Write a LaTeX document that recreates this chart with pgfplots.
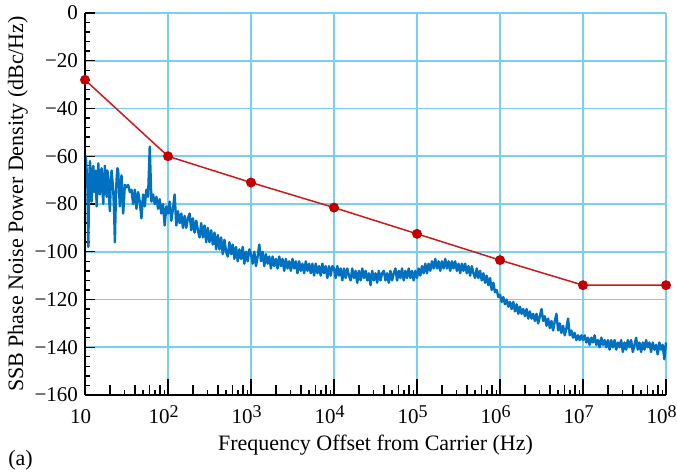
\documentclass[border=0pt]{standalone}
\usepackage{fontspec}
\setmainfont{Liberation Serif}
\usepackage{pgfplots}
\pgfplotsset{compat=1.18}
\usepackage{pgfplotstable}

\definecolor{gridc}{RGB}{120,208,240}
\definecolor{redc}{RGB}{205,25,25}
\definecolor{markc}{RGB}{195,0,0}
\definecolor{bluec}{RGB}{0,112,192}

\newcommand\ex[1]{10\raisebox{3.3pt}{\fontsize{9pt}{9pt}\selectfont #1}}

\pgfplotstableread{
f y
1.000e1 -62
1.023e1 -60
1.047e1 -66
1.072e1 -74
1.096e1 -98
1.122e1 -70
1.148e1 -62
1.175e1 -68
1.202e1 -79
1.230e1 -70
1.259e1 -64
1.288e1 -75
1.318e1 -71
1.349e1 -66
1.380e1 -81
1.413e1 -72
1.445e1 -63
1.479e1 -70
1.514e1 -76
1.549e1 -68
1.585e1 -65
1.622e1 -73
1.660e1 -80
1.698e1 -70
1.738e1 -64
1.778e1 -72
1.820e1 -77
1.862e1 -66
1.905e1 -69
1.950e1 -78
1.995e1 -83
2.042e1 -72
2.089e1 -66
2.138e1 -70
2.188e1 -74
2.239e1 -82
2.291e1 -96
2.344e1 -80
2.399e1 -70
2.455e1 -65
2.512e1 -66
2.570e1 -74
2.630e1 -81
2.692e1 -72
2.754e1 -68
2.818e1 -76
2.884e1 -84
2.951e1 -78
3.020e1 -72
3.162e1 -73
3.311e1 -72
3.467e1 -75
3.631e1 -74
3.802e1 -80
3.981e1 -74
4.169e1 -82
4.365e1 -75
4.571e1 -79
4.786e1 -86
5.012e1 -76
5.248e1 -81
5.495e1 -74
5.754e1 -77
6.026e1 -56
6.310e1 -79
6.607e1 -76
6.918e1 -80
7.244e1 -77
7.586e1 -82
7.943e1 -78
8.318e1 -84
8.710e1 -80
9.120e1 -89
9.550e1 -81
1.000e2 -84
1.047e2 -79
1.096e2 -87
1.148e2 -82
1.202e2 -76
1.259e2 -89
1.318e2 -83
1.380e2 -88
1.445e2 -84
1.514e2 -90
1.585e2 -85
1.660e2 -90
1.738e2 -86
1.820e2 -84
1.905e2 -91
1.995e2 -86
2.089e2 -92
2.188e2 -87
2.291e2 -91
2.399e2 -94
2.512e2 -88
2.630e2 -94
2.754e2 -89
2.884e2 -96
3.020e2 -90
3.162e2 -96
3.311e2 -91
3.467e2 -97
3.631e2 -92
3.802e2 -99
3.981e2 -93
4.169e2 -99
4.365e2 -94
4.571e2 -101
4.786e2 -95
5.012e2 -100
5.248e2 -102
5.495e2 -96
5.754e2 -101
6.026e2 -97
6.310e2 -103
6.607e2 -98
6.918e2 -104
7.244e2 -99
7.586e2 -103
7.943e2 -98
8.318e2 -105
8.710e2 -100
9.120e2 -104
9.550e2 -99
1.000e3 -101
1.047e3 -105
1.096e3 -100
1.148e3 -106
1.202e3 -102
1.259e3 -97
1.318e3 -104
1.380e3 -100
1.445e3 -106
1.514e3 -101
1.585e3 -105
1.660e3 -102
1.738e3 -107
1.820e3 -102
1.905e3 -106
1.995e3 -103
2.089e3 -107
2.188e3 -102
2.291e3 -106
2.399e3 -103
2.512e3 -108
2.630e3 -103
2.754e3 -107
2.884e3 -104
3.020e3 -108
3.162e3 -103
3.311e3 -107
3.467e3 -104
3.631e3 -109
3.802e3 -104
3.981e3 -108
4.169e3 -105
4.365e3 -109
4.571e3 -104
4.786e3 -108
5.012e3 -105
5.248e3 -109
5.495e3 -105
5.754e3 -110
6.026e3 -105
6.310e3 -109
6.607e3 -106
6.918e3 -110
7.244e3 -105
7.586e3 -109
7.943e3 -106
8.318e3 -111
8.710e3 -106
9.120e3 -110
9.550e3 -106
1.000e4 -107
1.047e4 -111
1.096e4 -106
1.148e4 -110
1.202e4 -107
1.259e4 -112
1.318e4 -107
1.380e4 -111
1.445e4 -107
1.514e4 -110
1.585e4 -112
1.660e4 -107
1.738e4 -111
1.820e4 -108
1.905e4 -113
1.995e4 -108
2.089e4 -112
2.188e4 -107
2.291e4 -111
2.399e4 -108
2.512e4 -112
2.630e4 -109
2.754e4 -114
2.884e4 -108
3.020e4 -112
3.162e4 -109
3.311e4 -113
3.467e4 -108
3.631e4 -112
3.802e4 -109
3.981e4 -108
4.169e4 -112
4.365e4 -109
4.571e4 -113
4.786e4 -108
5.012e4 -112
5.248e4 -109
5.495e4 -107
5.754e4 -112
6.026e4 -108
6.310e4 -111
6.607e4 -107
6.918e4 -112
7.244e4 -108
7.586e4 -111
7.943e4 -107
8.318e4 -111
8.710e4 -108
9.120e4 -112
9.550e4 -108
1.000e5 -111
1.047e5 -107
1.096e5 -110
1.148e5 -106
1.202e5 -109
1.259e5 -105
1.318e5 -109
1.380e5 -105
1.445e5 -108
1.514e5 -104
1.585e5 -107
1.660e5 -103
1.738e5 -107
1.820e5 -104
1.905e5 -108
1.995e5 -104
2.089e5 -107
2.188e5 -103
2.291e5 -107
2.399e5 -104
2.512e5 -108
2.630e5 -104
2.754e5 -107
2.884e5 -104
3.020e5 -108
3.162e5 -105
3.311e5 -109
3.467e5 -105
3.631e5 -108
3.802e5 -105
3.981e5 -109
4.169e5 -106
4.365e5 -110
4.571e5 -106
4.786e5 -109
5.012e5 -111
5.248e5 -107
5.495e5 -111
5.754e5 -108
6.026e5 -112
6.310e5 -109
6.607e5 -113
6.918e5 -110
7.244e5 -114
7.586e5 -111
7.943e5 -116
8.318e5 -113
8.710e5 -117
9.120e5 -116
9.550e5 -119
1.000e6 -118
1.047e6 -121
1.096e6 -119
1.148e6 -122
1.202e6 -120
1.259e6 -123
1.318e6 -121
1.380e6 -124
1.445e6 -121
1.514e6 -125
1.585e6 -122
1.660e6 -126
1.738e6 -123
1.820e6 -126
1.905e6 -124
1.995e6 -127
2.089e6 -124
2.188e6 -128
2.291e6 -125
2.399e6 -128
2.512e6 -126
2.630e6 -129
2.754e6 -126
2.884e6 -130
3.020e6 -127
3.162e6 -124
3.311e6 -129
3.467e6 -127
3.631e6 -131
3.802e6 -128
3.981e6 -132
4.169e6 -129
4.365e6 -133
4.571e6 -129
4.786e6 -126
5.012e6 -133
5.248e6 -130
5.495e6 -134
5.754e6 -131
6.026e6 -135
6.310e6 -132
6.607e6 -128
6.918e6 -135
7.244e6 -133
7.586e6 -136
7.943e6 -134
8.318e6 -137
8.710e6 -135
9.120e6 -137
9.550e6 -135
1.000e7 -137
1.047e7 -135
1.096e7 -138
1.148e7 -136
1.202e7 -139
1.259e7 -136
1.318e7 -138
1.380e7 -135
1.445e7 -139
1.514e7 -137
1.585e7 -140
1.660e7 -136
1.738e7 -139
1.820e7 -137
1.905e7 -140
1.995e7 -137
2.089e7 -141
2.188e7 -137
2.291e7 -140
2.399e7 -137
2.512e7 -141
2.630e7 -138
2.754e7 -140
2.884e7 -137
3.020e7 -142
3.162e7 -138
3.311e7 -141
3.467e7 -137
3.631e7 -140
3.802e7 -137
3.981e7 -142
4.169e7 -139
4.365e7 -136
4.571e7 -141
4.786e7 -138
5.012e7 -142
5.248e7 -138
5.495e7 -141
5.754e7 -137
6.026e7 -140
6.310e7 -138
6.607e7 -142
6.918e7 -138
7.244e7 -141
7.586e7 -139
7.943e7 -143
8.318e7 -138
8.710e7 -141
9.120e7 -139
9.550e7 -145
1.000e8 -138
}\noisedata

\pgfplotstableread{
f y
1e1 -28
1e2 -60
1e3 -71
1e4 -81.5
1e5 -92.5
1e6 -103.5
1e7 -114
1e8 -114
}\maskdata

\begin{document}
\begin{tikzpicture}
\begin{axis}[
  scale only axis,
  width=290.5pt, height=191pt,
  xmode=log,
  xmin=10, xmax=1e8, ymin=-160, ymax=0,
  axis lines*=left,
  axis line style={black, line width=0.75pt},
  tick align=inside,
  tick style={black, line width=0.7pt},
  major tick length=5pt,
  minor tick length=2.6pt,
  xtick={2e1,4e1,6e1,8e1,2e2,4e2,6e2,8e2,2e3,4e3,6e3,8e3,2e4,4e4,6e4,8e4,2e5,4e5,6e5,8e5,2e6,4e6,6e6,8e6,2e7,4e7,6e7,8e7},
  xticklabels={},
  minor xtick={3e1,5e1,7e1,9e1,3e2,5e2,7e2,9e2,3e3,5e3,7e3,9e3,3e4,5e4,7e4,9e4,3e5,5e5,7e5,9e5,3e6,5e6,7e6,9e6,3e7,5e7,7e7,9e7},
  extra x ticks={1e1,1e2,1e3,1e4,1e5,1e6,1e7,1e8},
  extra x tick labels={10,\ex{2},\ex{3},\ex{4},\ex{5},\ex{6},\ex{7},\ex{8}},
  extra x tick style={grid=major, major tick length=8pt},
  xmajorgrids=false,
  ytick={-160,-140,-120,-100,-80,-60,-40,-20,0},
  yticklabels={−160,−140,−120,−100,−80,−60,−40,−20,0},
  minor y tick num=4,
  ymajorgrids=true,
  major grid style={gridc, line width=0.9pt},
  xlabel={Frequency Offset from Carrier (Hz)},
  ylabel={SSB Phase Noise Power Density (dBc/Hz)},
  ylabel shift=-3.5pt,
  tick label style={font=\fontsize{10.5pt}{12pt}\selectfont},
  xticklabel style={anchor=base, yshift=-14.5pt, xshift=-2.2pt},
  label style={font=\fontsize{11pt}{13pt}\selectfont},
  xlabel style={at={(axis description cs:0.5,0)}, anchor=base, yshift=-27.5pt},
  clip=false,
]
\addplot[bluec, line width=1.2pt, line join=round] table[x=f,y=y] {\noisedata};
\addplot[redc, line width=0.75pt, mark=*, mark size=2.1pt, mark options={fill=markc, draw=markc}] table[x=f,y=y] {\maskdata};
\draw[black, line width=0.75pt] (rel axis cs:0,0) -- (rel axis cs:1,0);
\draw[black, line width=0.75pt] (rel axis cs:0,0) -- (rel axis cs:0,1);
\end{axis}
\node[anchor=base west, inner sep=0pt, font=\fontsize{11pt}{13pt}\selectfont] at ([xshift=-38.5pt, yshift=-35pt]current axis.south west) {(a)};
\pgfresetboundingbox
\path[use as bounding box] ([shift={(-42.5pt,-39.5pt)}]current axis.south west) rectangle ([shift={(5.5pt,6.5pt)}]current axis.north east);
\end{tikzpicture}
\end{document}
